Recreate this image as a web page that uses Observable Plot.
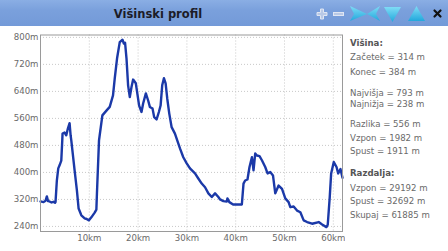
<!DOCTYPE html>
<html>
<head>
<meta charset="utf-8">
<script src="https://cdn.jsdelivr.net/npm/d3@7"></script>
<script src="https://cdn.jsdelivr.net/npm/@observablehq/plot@0.6"></script>
<style>
  html, body { margin: 0; padding: 0; background: #fff; }
  #wrap { position: relative; width: 448px; height: 251px; overflow: hidden; font-family: "DejaVu Sans", sans-serif; }
  #bar { position: absolute; left: 0; top: 0; width: 448px; height: 26px; background: linear-gradient(#8aaee4, #7aa0dc 40%, #739ad8); }
  #title { position: absolute; left: 0; width: 316px; top: 0; height: 26px; line-height: 28px; text-align: center; font-weight: bold; font-size: 11.5px; color: #1c1c28; }
  #icons { position: absolute; left: 0; top: 0; }
  #chart { position: absolute; left: 0; top: 26px; }
  .info { position: absolute; left: 350px; font-size: 8.6px; color: #6a6a6a; white-space: nowrap; line-height: 10px; }
  .info.b { font-weight: bold; color: #555; }
</style>
</head>
<body>
<div id="wrap">
  <div id="bar"></div>
  <div id="title">Višinski profil</div>
  <svg id="icons" width="448" height="26">
    <defs>
      <linearGradient id="cy" x1="0" y1="0" x2="0" y2="1">
        <stop offset="0" stop-color="#7fdcf6"/>
        <stop offset="1" stop-color="#22a8dc"/>
      </linearGradient>
    </defs>
    <g stroke="#dfe6f3" stroke-width="1" fill="#b9c9e6">
      <path d="M320.5,9 h3 v3.5 h3.5 v3 h-3.5 v3.5 h-3 v-3.5 h-3.5 v-3 h3.5 z"/>
      <rect x="333.5" y="12.5" width="10" height="3"/>
    </g>
    <g fill="url(#cy)">
      <polygon points="350,6 367,14 350,21 354,14"/>
      <polygon points="380,6 367,14 380,21 376,14"/>
      <polygon points="384,7 401,7 392.5,22"/>
      <polygon points="416.5,6 408,21 425,21"/>
    </g>
    <g stroke="#111" stroke-width="2.2" stroke-linecap="round">
      <line x1="434.5" y1="10.5" x2="440.5" y2="16.5"/>
      <line x1="440.5" y1="10.5" x2="434.5" y2="16.5"/>
    </g>
  </svg>
  <div id="chart"></div>
  <div class="info b" style="top:38px">Višina:</div>
  <div class="info" style="top:52px">Začetek = 314 m</div>
  <div class="info" style="top:67px">Konec = 384 m</div>
  <div class="info" style="top:88px">Najvišja = 793 m</div>
  <div class="info" style="top:99px">Najnižja = 238 m</div>
  <div class="info" style="top:119px">Razlika = 556 m</div>
  <div class="info" style="top:133px">Vzpon = 1982 m</div>
  <div class="info" style="top:146px">Spust = 1911 m</div>
  <div class="info b" style="top:168px">Razdalja:</div>
  <div class="info" style="top:183px">Vzpon = 29192 m</div>
  <div class="info" style="top:196px">Spust = 32692 m</div>
  <div class="info" style="top:210px">Skupaj = 61885 m</div>
</div>
<script>
// distance along the route (km)
const distanceKm = [
  0, 0.62, 1.03, 1.30, 1.54, 1.85, 2.26, 2.67, 2.98, 3.08, 3.35, 3.64, 3.91, 4.26, 4.46, 4.52,
  4.93, 5.28, 5.61, 5.96, 6.17, 6.31, 6.99, 7.46, 7.81, 8.37, 9.05, 9.46, 9.93, 10.42, 11.10,
  11.45, 11.57, 11.99, 12.13, 12.68, 13.51, 14.19, 14.86, 15.21, 15.69, 16.24, 16.80, 17.06,
  17.33, 17.62, 17.95, 18.30, 18.65, 18.98, 19.53, 19.80, 20.21, 20.70, 21.03, 21.59, 22.06,
  22.41, 22.96, 23.29, 23.79, 24.26, 24.61, 24.94, 25.29, 25.64, 25.97, 26.38, 26.87, 27.55,
  28.23, 28.58, 29.26, 29.96, 30.63, 31.66, 32.34, 33.04, 33.72, 34.40, 35.10, 35.77, 36.45,
  36.80, 37.48, 38.18, 38.30, 38.70, 39.47, 41.26, 41.60, 41.94, 42.41, 42.83, 43.32, 43.65,
  44.00, 44.35, 44.88, 45.37, 46.05, 46.53, 47.08, 47.64, 48.11, 48.79, 49.49, 50.16, 50.84,
  51.19, 51.87, 52.57, 53.25, 53.93, 54.63, 55.65, 57.01, 57.71, 58.59, 58.86, 59.27, 59.56,
  60.10, 60.66, 61.00, 61.47, 61.885
];
// elevation (m)
const elevationM = [
  314, 312, 316, 329, 315, 314, 311, 313, 310, 312, 376, 412, 421, 435, 495, 515,
  518, 510, 530, 546, 510, 495, 406, 347, 293, 273, 264, 262, 258, 267, 281,
  290, 340, 495, 510, 569, 583, 594, 628, 678, 738, 786, 793, 782,
  784, 738, 658, 623, 653, 675, 664, 638, 598, 579, 604, 634, 613,
  594, 589, 564, 557, 579, 598, 658, 679, 664, 619, 575, 534, 515,
  486, 471, 445, 427, 412, 397, 382, 367, 356, 338, 327, 338, 327,
  320, 315, 314, 323, 312, 305, 305, 367, 376, 379, 416, 445, 406,
  456, 450, 448, 436, 416, 397, 401, 391, 338, 361, 351, 323, 312,
  297, 299, 287, 282, 258, 253, 248, 253, 246, 238, 245, 327, 397,
  431, 416, 397, 410, 384
];
const yTicks = [240, 320, 400, 480, 560, 640, 720, 800];
const xTicks = [10, 20, 30, 40, 50, 60];

const profile = distanceKm.map((d, i) => ({km: d, m: elevationM[i]}));

const chart = Plot.plot({
  width: 345,
  height: 225,
  marginLeft: 40,
  marginRight: 3,
  marginTop: 8.5,
  marginBottom: 20,
  style: {fontFamily: "DejaVu Sans, sans-serif", fontSize: "8.6px", color: "#6a6a6a", background: "transparent"},
  x: {domain: [0, 61.885]},
  y: {domain: [225, 807]},
  marks: [
    Plot.gridY(yTicks, {stroke: "#c8c8c8", strokeOpacity: 1, strokeDasharray: "1,2"}),
    Plot.gridX(xTicks, {stroke: "#c8c8c8", strokeOpacity: 1, strokeDasharray: "1,2"}),
    Plot.axisY(yTicks, {tickSize: 0, tickPadding: 2, tickFormat: d => d + "m", label: null}),
    Plot.axisX(xTicks, {tickSize: 0, tickPadding: 3, tickFormat: d => d + "km", label: null}),
    Plot.line(profile, {x: "km", y: "m", stroke: "#1b39a8", strokeWidth: 2.4, strokeLinejoin: "round"}),
    Plot.frame({stroke: "#9a9a9a"})
  ]
});
document.getElementById("chart").appendChild(chart);
</script>
</body>
</html>
